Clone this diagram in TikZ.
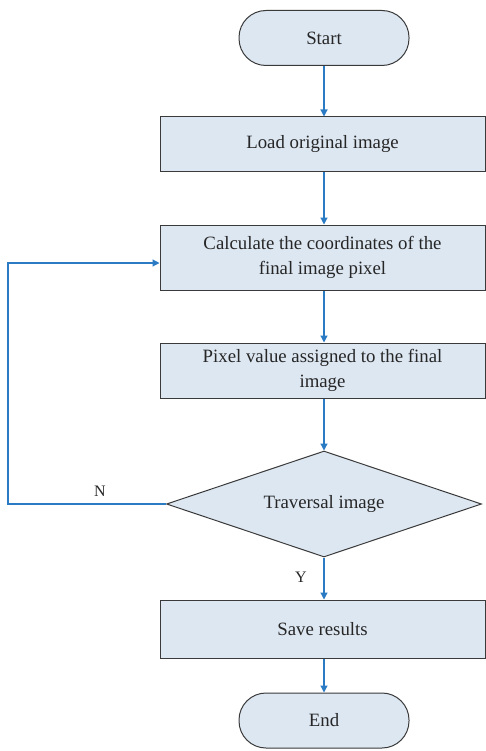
\documentclass[tikz,border=0pt]{standalone}
\usepackage{fontspec}
\setmainfont{Liberation Serif}
\usetikzlibrary{shapes.geometric,arrows.meta}
\definecolor{boxfill}{HTML}{DDE7F2}
\definecolor{boxline}{HTML}{3A3A3A}
\definecolor{arr}{HTML}{2A7BC4}
\begin{document}
\begin{tikzpicture}[x=1pt,y=-1pt,
  every node/.style={font=\fontsize{18.8}{25}\selectfont, text=black!85},
  procbox/.style={draw=boxline, line width=1pt, fill=boxfill, minimum width=325pt, align=center, inner sep=0pt},
  term/.style={draw=boxline, line width=1pt, fill=boxfill, rounded corners=27pt, minimum width=170pt, minimum height=55pt, inner sep=0pt},
  decision/.style={draw=boxline, line width=1pt, fill=boxfill, diamond, aspect=3, inner sep=0pt, minimum width=315pt, minimum height=106pt},
  flow/.style={draw=arr, line width=1.2pt, -{Triangle[length=7pt,width=7pt]}},
  lbl/.style={font=\fontsize{16}{18}\selectfont}]
\useasboundingbox (0,0) rectangle (485,751);
\fill[white] (0,0) rectangle (485,751);
\node[term] (start) at (324,38) {Start};
\node[procbox, minimum height=55pt] (load) at (322.5,144.5) {Load original image};
\node[procbox, minimum height=65pt] (calc) at (322.5,257.5) {Calculate the coordinates of the\\final image pixel};
\node[procbox, minimum height=55pt] (pix) at (322.5,370.5) {Pixel value assigned to the final\\image};
\node[decision] (dec) at (324,504) {Traversal image};
\node[procbox, minimum height=58pt] (save) at (322.5,629) {Save results};
\node[term] (end) at (324,720.5) {End};
\coordinate (c1) at (8,504);
\coordinate (c2) at (8,263);
\draw[flow] (start.south) -- (start.south |- load.north);
\draw[flow] (start.south |- load.south) -- (start.south |- calc.north);
\draw[flow] (start.south |- calc.south) -- (start.south |- pix.north);
\draw[flow] (start.south |- pix.south) -- (dec.north);
\draw[flow] (dec.south) -- (dec.south |- save.north);
\draw[flow] (dec.south |- save.south) -- (end.north);
\draw[flow] (dec.west) -- (c1) -- (c2) -- (calc.west |- c2);
\node[lbl] (nlab) at (100,491) {N};
\node[lbl] (ylab) at (301,577) {Y};
\end{tikzpicture}
\end{document}
